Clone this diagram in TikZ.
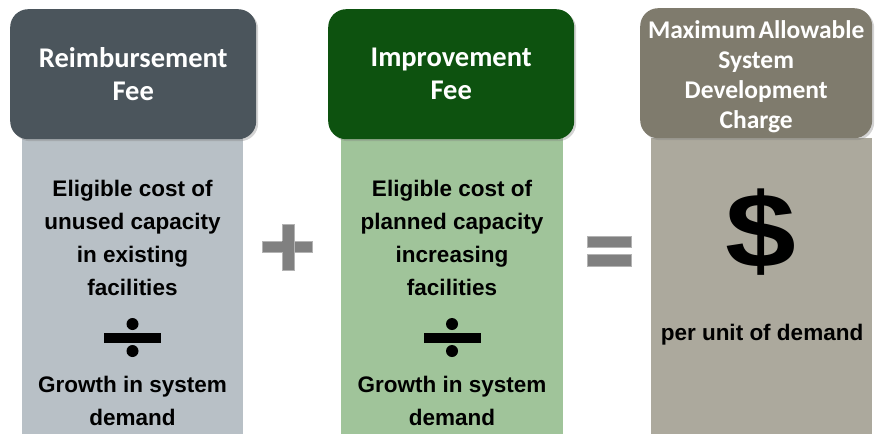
\documentclass[tikz,border=0pt]{standalone}
\usepackage{fontspec}
\setmainfont{Liberation Sans}
\newfontfamily\headfont{Carlito}
\usetikzlibrary{shadows}
\definecolor{headgrey}{HTML}{4B555C}
\definecolor{headgreen}{HTML}{0D520F}
\definecolor{headtaupe}{HTML}{7F7B6D}
\definecolor{panelgrey}{HTML}{B8C0C6}
\definecolor{panelgreen}{HTML}{A0C49A}
\definecolor{paneltaupe}{HTML}{ACA99D}
\definecolor{signgrey}{HTML}{808080}
\begin{document}
\begin{tikzpicture}[x=1pt,y=-1pt,
  head/.style={rounded corners=18pt,text=white,align=center,anchor=north west,
    minimum height=130pt,font=\headfont\bfseries\fontsize{28.5}{33}\selectfont,
    drop shadow={shadow xshift=2pt,shadow yshift=-2pt,opacity=0.35}},
  panel/.style={anchor=north west,minimum width=221pt,minimum height=296pt,inner sep=0pt},
  body/.style={align=center,font=\bfseries\fontsize{22.5}{33}\selectfont},
  sign/.style={fill=signgrey,draw=signgrey!60,line width=0.6pt}]
\useasboundingbox (0,0) rectangle (877,434);
% panels below the headers
\node[panel,fill=panelgrey] (reimb) at (22,138) {};
\node[panel,fill=panelgreen,minimum width=222pt] (improv) at (341,138) {};
\node[panel,fill=paneltaupe] (charge) at (651,138) {};
% headers
\node[head,fill=headgrey,minimum width=246pt] (reimbhead) at (10,9) {Reimbursement\\Fee};
\node[head,fill=headgreen,minimum width=246pt] (improvhead) at (328,9) {Improvement\\Fee};
\node[head,fill=headtaupe,minimum width=232pt] (chargehead) at (640,8) {};
\node[text=white,align=center,inner xsep=0pt,
  font=\headfont\bfseries\fontsize{25.5}{30}\selectfont] (chargetext)
  at ([yshift=-4pt]chargehead.center)
  {Maximum\hspace{-3pt} Allowable\\System\\Development\\Charge};
% first term
\node[body] (reimbcost) at (132.5,237.5) {Eligible cost of\\unused capacity\\in existing\\facilities};
\node[body] (reimbgrowth) at (132.5,401) {Growth in system\\demand};
% second term
\node[body] (improvcost) at (452,237.5) {Eligible cost of\\planned capacity\\increasing\\facilities};
\node[body] (improvgrowth) at (452,401) {Growth in system\\demand};
% result
\node[inner sep=0pt] (dollar) at (761,232)
  {\scalebox{1.2}[1]{\bfseries\fontsize{106}{106}\selectfont\$}};
\node[body] (perunit) at (762,335) {per unit of demand};
% division signs
\foreach \cx in {132.5,452} {
  \fill (\cx-28.5,333) rectangle (\cx+28.5,343);
  \fill (\cx,324) circle (6);
  \fill (\cx,351) circle (6);
}
% plus and equals
\draw[sign] (262,241) rectangle (312,252);
\draw[sign] (282,224) rectangle (294,270);
\fill[signgrey] (282.3,241.3) rectangle (293.7,251.7);
\draw[sign] (587,236) rectangle (631,247);
\draw[sign] (587,254) rectangle (631,266);
\end{tikzpicture}
\end{document}
